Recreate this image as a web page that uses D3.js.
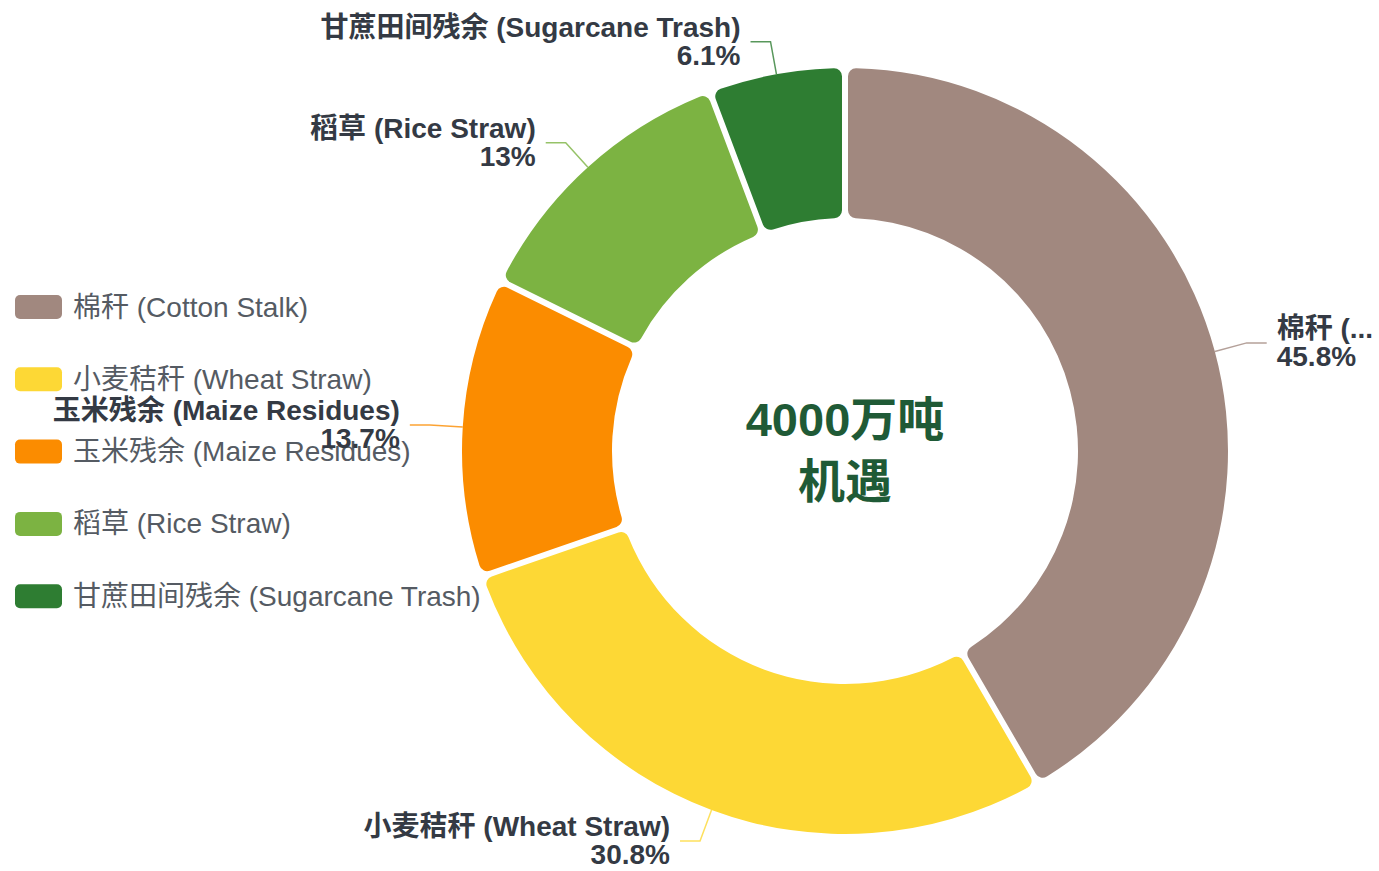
<!DOCTYPE html>
<html>
<head>
<meta charset="utf-8">
<script src="https://cdn.jsdelivr.net/npm/d3@7"></script>
<style>
    body { margin: 0; background: #ffffff; }
    text { font-family: "Liberation Sans", Arial, "Noto Sans CJK SC", sans-serif; }
</style>
</head>
<body>
<div id="canvas"></div>
<script>
"use strict"

/* Configuration variables: drawing */
let svgWidth = 1379;
let svgHeight = 871;
/* donut position and size */
let centerX = 845;
let centerY = 451;
let innerRadius = 233;
let outerRadius = 383;

/* Data: straw / residue categories */
let categories = ["棉秆 (Cotton Stalk)", "小麦秸秆 (Wheat Straw)", "玉米残余 (Maize Residues)",
    "稻草 (Rice Straw)", "甘蔗田间残余 (Sugarcane Trash)"];
let shares = [45.8, 30.8, 13.7, 13, 6.1];
let sliceColors = ["#a1887f", "#fdd835", "#fb8c00", "#7cb342", "#2e7d32"];
let centerLines = ["4000万吨", "机遇"];

/* Create drawing canvas */
let svg = d3.select("#canvas")
    .append("svg")
    .attr("width", svgWidth)
    .attr("height", svgHeight);

/* pie layout starts at 12 o'clock, goes clockwise, keeps data order */
let pie = d3.pie()
    .value(function (d) { return d; })
    .sort(null)
    .startAngle(0)
    .endAngle(2 * Math.PI)
    .padAngle(6 / Math.sqrt(innerRadius * innerRadius + outerRadius * outerRadius));

let arc = d3.arc()
    .innerRadius(innerRadius)
    .outerRadius(outerRadius)
    .cornerRadius(8);

let arcs = pie(shares);

let donut = svg.append("g")
    .attr("transform", "translate(" + centerX + "," + centerY + ")");

donut.selectAll("path")
    .data(arcs)
    .join("path")
    .attr("d", arc)
    .attr("fill", function (d, i) { return sliceColors[i]; });

/* Legend on the left */
for (let i = 0; i < categories.length; i++) {
    let y = 307 + i * 72.3;
    svg.append("rect")
        .attr("x", 15)
        .attr("y", y - 12)
        .attr("width", 47)
        .attr("height", 24)
        .attr("rx", 5)
        .attr("fill", sliceColors[i]);

    svg.append("text")
        .attr("x", 73)
        .attr("y", y)
        .attr("dominant-baseline", "central")
        .attr("font-size", 28)
        .attr("fill", "#555b63")
        .text(categories[i]);
}

/* Leader lines and labels */
let len1 = 33;
let len2 = 20;
for (let i = 0; i < arcs.length; i++) {
    let a = (arcs[i].startAngle + arcs[i].endAngle) / 2;
    let dx = Math.sin(a);
    let dy = -Math.cos(a);
    let x0 = centerX + outerRadius * dx;
    let y0 = centerY + outerRadius * dy;
    let x1 = centerX + (outerRadius + len1) * dx;
    let y1 = centerY + (outerRadius + len1) * dy;
    let right = dx >= 0;
    let x2 = x1 + (right ? len2 : -len2);

    svg.append("polyline")
        .attr("points", [[x0, y0], [x1, y1], [x2, y1]].map(function (p) { return p.join(","); }).join(" "))
        .attr("fill", "none")
        .attr("stroke", sliceColors[i])
        .attr("stroke-opacity", 0.8)
        .attr("stroke-width", 1.5);

    let tx = x2 + (right ? 10 : -10);
    let label = svg.append("text")
        .attr("font-size", 28)
        .attr("font-weight", "bold")
        .attr("fill", "#343a44")
        .attr("text-anchor", right ? "start" : "end");

    let nameLine = label.append("tspan")
        .attr("x", tx)
        .attr("y", y1 - 14)
        .attr("dominant-baseline", "central")
        .text(categories[i]);

    label.append("tspan")
        .attr("x", tx)
        .attr("y", y1 + 14)
        .attr("dominant-baseline", "central")
        .text(shares[i] + "%");

    /* cut long names that run past the edge of the canvas */
    if (right) {
        let maxWidth = svgWidth - tx - 2;
        let name = categories[i];
        while (nameLine.node().getComputedTextLength() > maxWidth && name.length > 1) {
            name = name.slice(0, -1);
            nameLine.text(name + "...");
        }
    }
}

/* Center text */
for (let i = 0; i < centerLines.length; i++) {
    svg.append("text")
        .attr("x", centerX)
        .attr("y", 419 + i * 62)
        .attr("text-anchor", "middle")
        .attr("dominant-baseline", "central")
        .attr("font-size", 47)
        .attr("font-weight", "bold")
        .attr("fill", "#1f5a36")
        .text(centerLines[i]);
}
</script>
</body>
</html>
